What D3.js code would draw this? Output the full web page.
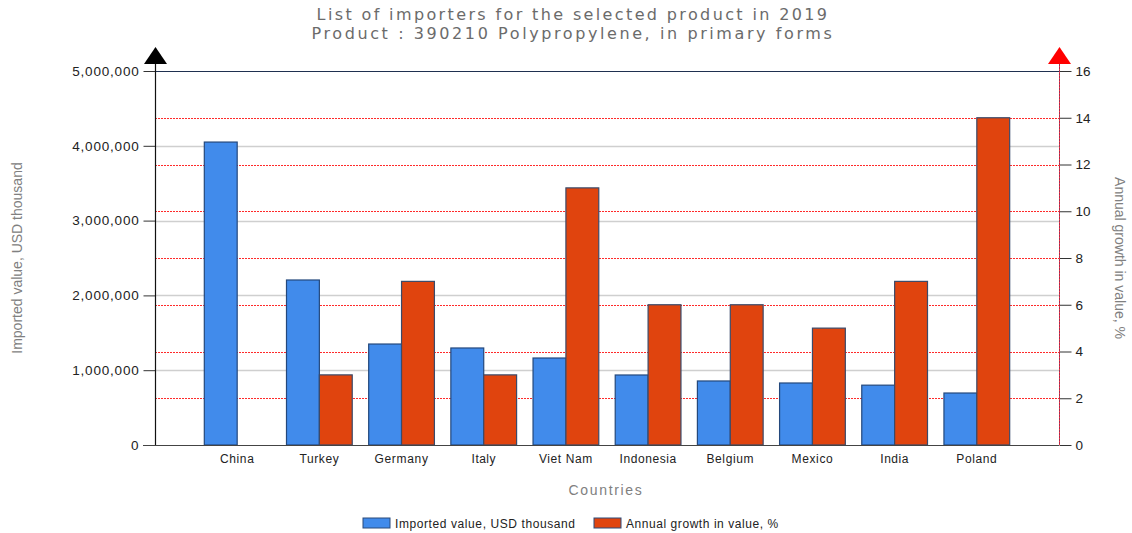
<!DOCTYPE html>
<html><head><meta charset="utf-8">
<script src="https://cdn.jsdelivr.net/npm/d3@7"></script>
<style>body{margin:0;background:#fff;}svg{display:block;}</style>
</head><body>
<script>
const categories = ["China","Turkey","Germany","Italy","Viet Nam","Indonesia","Belgium","Mexico","India","Poland"];
const importedValues = [4050000,2206000,1350000,1297000,1163000,936000,856000,829000,800000,695000];
const growthValues = [0,3,7,3,11,6,6,5,7,14];
const leftTicks = [0,1000000,2000000,3000000,4000000,5000000];
const rightTicks = [0,2,4,6,8,10,12,14,16];
const titleLines = ["List of importers for the selected product in 2019","Product : 390210 Polypropylene, in primary forms"];
const seriesNames = ["Imported value, USD thousand","Annual growth in value, %"];

const W=1132,H=533;
const L=155,R=1059,T=71,B=445;
const FONT="Liberation Sans, Arial, sans-serif";
const svg=d3.select("body").append("svg").attr("width",W).attr("height",H);

// stretch text horizontally via letter spacing to a width ratio
function widen(sel, ratio){
  sel.each(function(){
    const n=this.textContent.length;
    const w=this.getComputedTextLength();
    const ls=(w*ratio-w)/n;
    d3.select(this).attr("letter-spacing",ls.toFixed(2));
    const a=d3.select(this).attr("text-anchor");
    if(a==="end"){ const dx=+(d3.select(this).attr("dx")||0); d3.select(this).attr("dx",ls); }
  });
}

const x=d3.scaleBand().domain(categories).range([L,R]).paddingInner(0).paddingOuter(0.5);
const xs=d3.scaleBand().domain([0,1]).range([0,x.bandwidth()]).paddingInner(0).paddingOuter(0.25);
const yL=d3.scaleLinear().domain([0,5000000]).range([B,T]);
const yR=d3.scaleLinear().domain([0,16]).range([B,T]);

// titles
const tt=svg.append("g").selectAll("text").data(titleLines).join("text")
  .attr("x",573).attr("y",(d,i)=>20+i*19).attr("text-anchor","middle")
  .attr("font-family","DejaVu Sans, Verdana, sans-serif").attr("font-size",16).attr("fill","#6b6b6b").text(d=>d);
tt.each(function(){ const w=this.getComputedTextLength(); const target=this.textContent.startsWith("List")?513:523; const ls=(target-w)/this.textContent.length; d3.select(this).attr("letter-spacing",ls.toFixed(2)); });

// grid gray (left)
svg.append("g").selectAll("line").data(leftTicks.filter(d=>d>0&&d<5000000)).join("line")
  .attr("x1",L).attr("x2",R).attr("y1",d=>Math.round(yL(d))+0.5).attr("y2",d=>Math.round(yL(d))+0.5)
  .attr("stroke","#cfcfcf").attr("stroke-width",1.3);
// grid red dotted (right)
svg.append("g").selectAll("line").data(rightTicks.filter(d=>d>0&&d<16)).join("line")
  .attr("x1",L).attr("x2",R).attr("y1",d=>Math.round(yR(d))+0.5).attr("y2",d=>Math.round(yR(d))+0.5)
  .attr("stroke","#ff2a2a").attr("stroke-width",1).attr("stroke-dasharray","2,1");
// top line
svg.append("line").attr("x1",L).attr("x2",R+12).attr("y1",T+0.5).attr("y2",T+0.5).attr("stroke","#1f3050");

// bars
const g=svg.append("g");
g.selectAll("rect.imp").data(categories).join("rect").attr("class","imp")
  .attr("x",(d)=>x(d)+xs(0)).attr("width",xs.bandwidth())
  .attr("y",(d,i)=>yL(importedValues[i])).attr("height",(d,i)=>B-yL(importedValues[i]))
  .attr("fill","#418beb").attr("stroke","#24487c").attr("stroke-width",1.2);
g.selectAll("rect.gr").data(categories).join("rect").attr("class","gr")
  .attr("x",(d)=>x(d)+xs(1)).attr("width",xs.bandwidth())
  .attr("y",(d,i)=>yR(growthValues[i])).attr("height",(d,i)=>B-yR(growthValues[i]))
  .attr("fill","#e0440e").attr("stroke","#3a4a6a").attr("stroke-width",1.2)
  .style("display",(d,i)=>growthValues[i]===0?"none":null);

// left axis
const fmt=d3.format(",");
const la=svg.append("g").attr("transform",`translate(${L+0.5},0)`)
  .call(d3.axisLeft(yL).tickValues(leftTicks).tickFormat(fmt).tickSize(12).tickPadding(4));
la.select(".domain").remove();
la.selectAll(".tick line").attr("stroke","#333");
la.selectAll("text").attr("font-family",FONT).attr("font-size",13.5).attr("fill","#222");
widen(la.selectAll("text"),1.12);
svg.append("line").attr("x1",L+0.5).attr("x2",L+0.5).attr("y1",60).attr("y2",B).attr("stroke","#111").attr("stroke-width",1.2);
svg.append("path").attr("d",`M${L-11},${64}L${L+12},${64}L${L+0.5},${47}Z`).attr("fill","#000");

// right axis
const ra=svg.append("g").attr("transform",`translate(${R+0.5},0)`)
  .call(d3.axisRight(yR).tickValues(rightTicks).tickSize(12).tickPadding(4));
ra.select(".domain").remove();
ra.selectAll(".tick line").attr("stroke","#333");
ra.selectAll("text").attr("font-family",FONT).attr("font-size",13.5).attr("fill","#222");
svg.append("line").attr("x1",R+0.5).attr("x2",R+0.5).attr("y1",60).attr("y2",B).attr("stroke","#a03050").attr("stroke-width",1);
svg.append("line").attr("x1",R+0.5).attr("x2",R+0.5).attr("y1",60).attr("y2",B).attr("stroke","#ff3040").attr("stroke-width",1).attr("stroke-dasharray","1,2");
svg.append("path").attr("d",`M${R-11},${64}L${R+12},${64}L${R+0.5},${47}Z`).attr("fill","#f00");

// bottom axis
svg.append("line").attr("x1",L-12).attr("x2",R).attr("y1",B+0.5).attr("y2",B+0.5).attr("stroke","#444");
const xa=svg.append("g").attr("transform",`translate(0,${B})`)
  .call(d3.axisBottom(x).tickSize(0).tickPadding(9));
xa.select(".domain").remove();
xa.selectAll("text").attr("font-family",FONT).attr("font-size",12).attr("fill","#222");
widen(xa.selectAll("text"),1.1);

// axis titles
svg.append("text").attr("transform",`translate(22,258) rotate(-90)`).attr("text-anchor","middle")
  .attr("font-family",FONT).attr("font-size",14).attr("fill","#808080").text("Imported value, USD thousand");
svg.append("text").attr("transform",`translate(1115,258) rotate(90)`).attr("text-anchor","middle")
  .attr("font-family",FONT).attr("font-size",14).attr("fill","#808080").text("Annual growth in value, %");
const ct=svg.append("text").attr("x",606).attr("y",495).attr("text-anchor","middle")
  .attr("font-family",FONT).attr("font-size",14).attr("fill","#808080").text("Countries");
widen(ct,1.25);

// legend
const legX=[363,594], legCol=["#418beb","#e0440e"];
const lg=svg.append("g").selectAll("g").data(seriesNames).join("g").attr("transform",(d,i)=>`translate(${legX[i]},518)`);
lg.append("rect").attr("width",27).attr("height",10).attr("fill",(d,i)=>legCol[i]).attr("stroke","#2a4a7a");
const lt=lg.append("text").attr("x",32).attr("y",9.5).attr("font-family",FONT).attr("font-size",12).attr("fill","#222").text(d=>d);
widen(lt,1.1);
</script>
</body></html>
